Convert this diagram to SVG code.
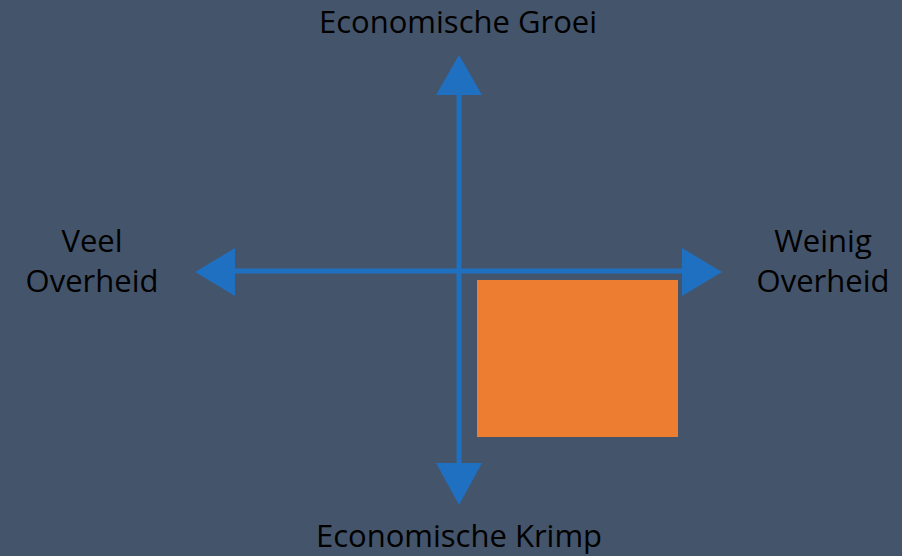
<svg xmlns="http://www.w3.org/2000/svg" width="902" height="556" viewBox="0 0 902 556">
<style>
.lbl{font-family:"Open Sans","Liberation Sans",sans-serif;font-size:31px;fill:#000;text-anchor:middle}
.ax{stroke:#1F70C1;stroke-width:5;fill:none}
.hd{fill:#1F70C1}
</style>
<rect width="902" height="556" fill="#44546A"/>
<g id="connectors">
<line class="ax" x1="459" y1="90" x2="459" y2="468"/>
<polygon class="hd" points="459,55 482,95 436,95"/>
<polygon class="hd" points="459,505 482,463 436,463"/>
<line class="ax" x1="230" y1="271" x2="687" y2="271"/>
<polygon class="hd" points="195,272 235,248 235,296"/>
<polygon class="hd" points="722,272 682,248 682,296"/>
</g>
<g id="box"><rect x="477" y="280" width="201" height="157" fill="#ED7D31"/></g>
<g id="top"><text class="lbl" x="458" y="33">Economische Groei</text></g>
<g id="bottom"><text class="lbl" x="459" y="547">Economische Krimp</text></g>
<g id="left"><text class="lbl" x="92" y="252">Veel</text><text class="lbl" x="92" y="292">Overheid</text></g>
<g id="right"><text class="lbl" x="823" y="252">Weinig</text><text class="lbl" x="823" y="292">Overheid</text></g>
</svg>
